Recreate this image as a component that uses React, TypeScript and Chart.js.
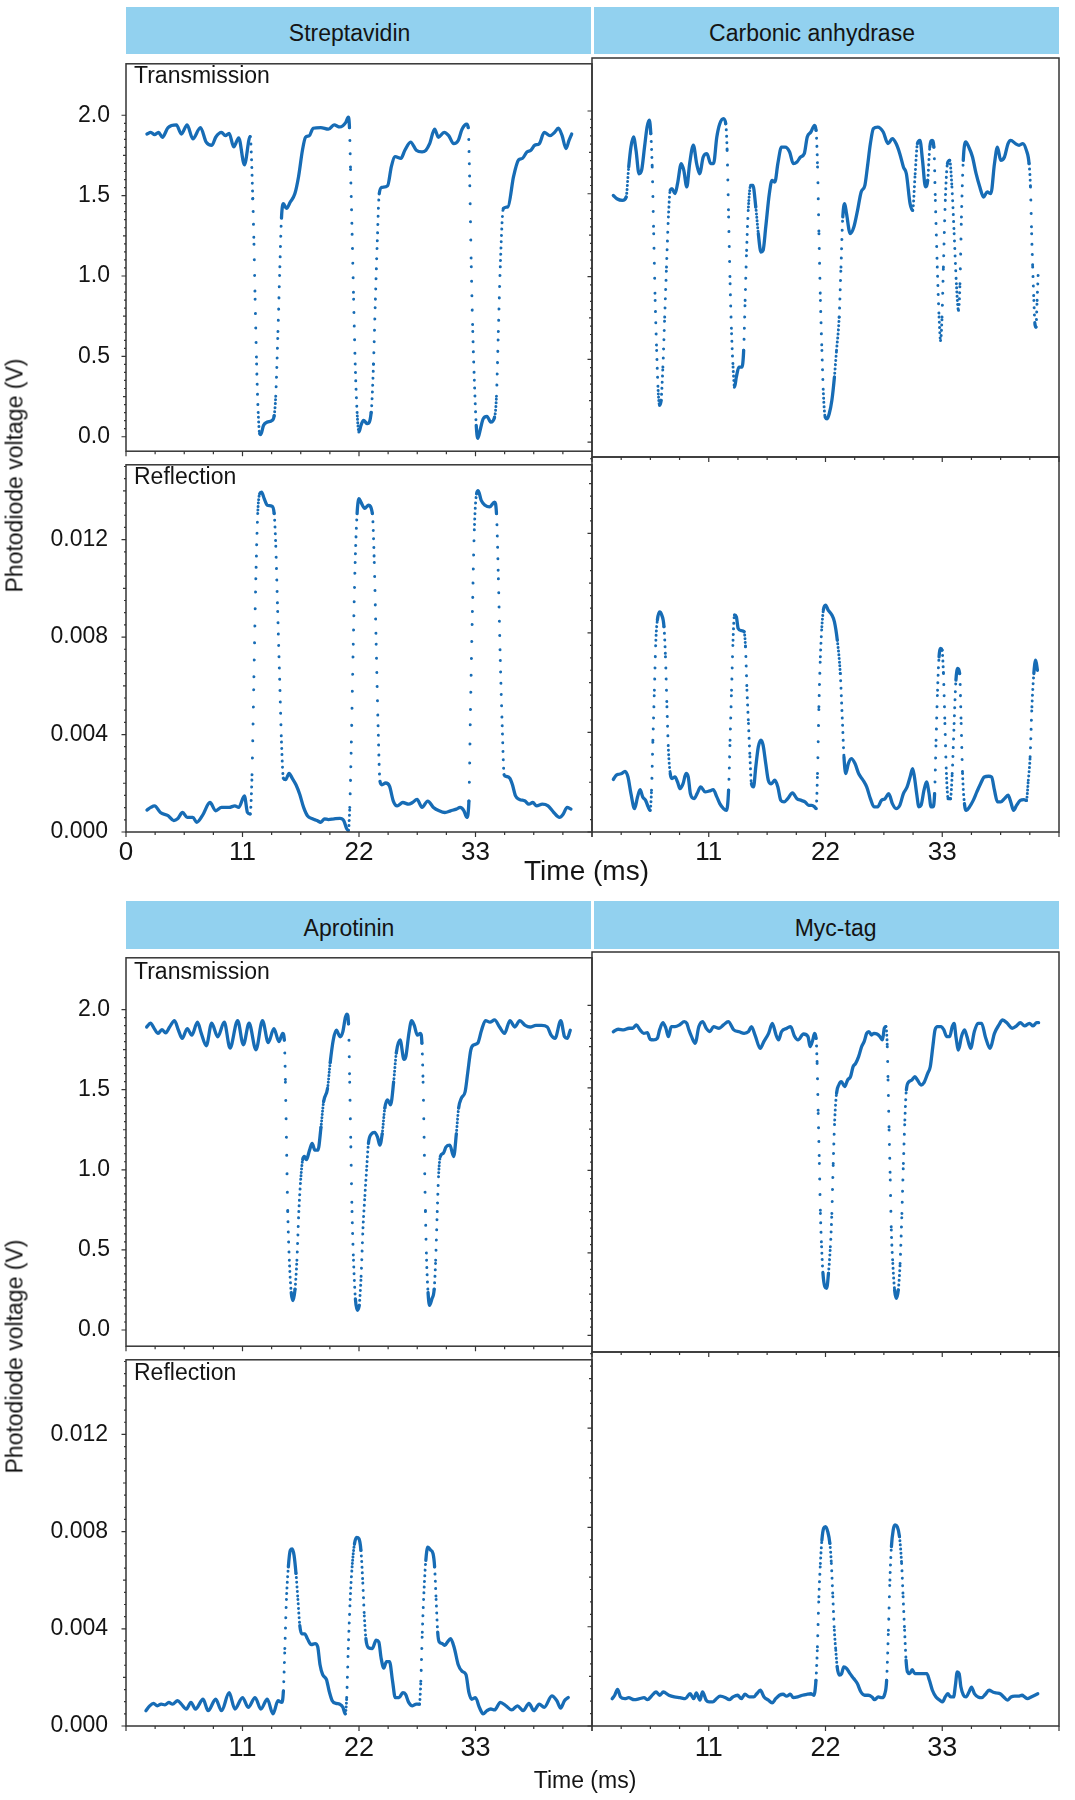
import React, { useEffect, useRef } from 'react';
import { Chart, registerables } from 'chart.js';

Chart.register(...registerables);

type Pt = [number, number];

// ---------------- axis values ----------------
const timeTickLabelsTop = [0, 11, 22, 33];
const timeTickLabelsBottom = [11, 22, 33];
const timeTickLabelsNone = [0, 11, 22, 33];
const transmissionTicks = [0, 0.5, 1.0, 1.5, 2.0];
const reflectionTicks = [0, 0.004, 0.008, 0.012];

// ---------------- data: [time (ms), photodiode voltage (V)] ----------------
const streptavidinTransmission: Pt[] = [
  [1.98,1.883],[2.34,1.893],[2.70,1.879],[3.07,1.893],[3.43,1.863],[3.97,1.923],[4.76,1.940],[5.23,1.883],[5.77,1.940],[6.31,1.853],
  [7.03,1.923],[7.57,1.833],[8.11,1.813],[8.47,1.863],[9.02,1.893],[9.38,1.873],[9.74,1.887],[10.17,1.803],[10.64,1.859],[11.18,1.692],
  [11.72,1.867],[11.97,1.480],[12.08,1.198],[12.19,0.856],[12.33,0.453],[12.48,0.151],[12.62,0.020],[12.73,0.014],[12.98,0.070],[13.34,0.091],
  [13.78,0.101],[13.99,0.131],[14.14,0.252],[14.35,0.655],[14.53,1.057],[14.68,1.360],[14.86,1.450],[15.15,1.420],[15.51,1.460],[15.94,1.511],
  [16.30,1.621],[16.66,1.782],[16.95,1.863],[17.31,1.873],[17.67,1.919],[18.39,1.923],[19.11,1.913],[19.65,1.940],[20.19,1.927],[20.74,1.954],
  [20.99,1.988],[21.10,1.923],[21.20,1.662],[21.35,1.259],[21.49,0.856],[21.64,0.453],[21.82,0.151],[22.00,0.030],[22.18,0.070],[22.43,0.101],
  [22.79,0.081],[23.15,0.151],[23.37,0.453],[23.55,0.856],[23.73,1.219],[23.91,1.511],[24.16,1.551],[24.70,1.561],[25.06,1.682],[25.42,1.742],
  [25.96,1.732],[26.33,1.782],[26.87,1.833],[27.41,1.782],[27.95,1.772],[28.31,1.782],[28.67,1.823],[29.14,1.913],[29.50,1.863],[30.04,1.893],
  [30.47,1.873],[30.94,1.823],[31.37,1.843],[31.73,1.913],[32.17,1.944],[32.31,1.923],[32.46,1.561],[32.60,1.057],[32.74,0.655],[32.89,0.352],
  [33.07,0.070],[33.21,-0.010],[33.47,0.050],[33.72,0.111],[34.08,0.127],[34.44,0.091],[34.80,0.121],[34.98,0.252],[35.16,0.655],[35.34,1.057],
  [35.63,1.420],[36.06,1.430],[36.60,1.621],[37.07,1.722],[37.43,1.732],[37.86,1.772],[38.23,1.782],[38.59,1.813],[39.02,1.823],[39.49,1.893],
  [40.03,1.873],[40.46,1.893],[40.82,1.919],[41.18,1.873],[41.54,1.793],[41.83,1.843],[42.08,1.883],
];

const streptavidinReflection: Pt[] = [
  [1.98,0.00090],[2.34,0.00101],[2.70,0.00107],[3.25,0.00080],[3.97,0.00067],[4.51,0.00047],[4.87,0.00054],[5.34,0.00080],[5.77,0.00060],[6.31,0.00060],
  [6.67,0.00040],[7.21,0.00067],[7.93,0.00121],[8.47,0.00087],[9.02,0.00101],[9.74,0.00101],[10.28,0.00107],[10.64,0.00101],[11.18,0.00148],[11.47,0.00080],
  [11.72,0.00074],[11.90,0.00235],[12.08,0.00637],[12.26,0.01039],[12.44,0.01307],[12.62,0.01388],[12.80,0.01395],[13.05,0.01368],[13.34,0.01341],[13.78,0.01337],
  [13.99,0.01307],[14.14,0.01173],[14.32,0.00905],[14.50,0.00637],[14.68,0.00369],[14.86,0.00221],[15.07,0.00215],[15.40,0.00241],[15.69,0.00221],[16.05,0.00194],
  [16.41,0.00154],[16.77,0.00101],[17.13,0.00067],[17.60,0.00054],[18.03,0.00047],[18.39,0.00040],[18.75,0.00054],[19.11,0.00051],[19.65,0.00054],[20.19,0.00056],
  [20.56,0.00047],[20.84,0.00013],[20.99,0.00007],[21.13,0.00101],[21.28,0.00369],[21.46,0.00771],[21.64,0.01106],[21.82,0.01307],[22.00,0.01368],[22.18,0.01354],
  [22.54,0.01328],[22.90,0.01341],[23.26,0.01307],[23.44,0.01106],[23.62,0.00771],[23.80,0.00436],[23.98,0.00208],[24.16,0.00194],[24.52,0.00201],[24.88,0.00188],
  [25.24,0.00127],[25.60,0.00107],[26.14,0.00121],[26.69,0.00114],[27.05,0.00121],[27.48,0.00134],[27.95,0.00101],[28.49,0.00127],[29.03,0.00101],[29.57,0.00087],
  [30.11,0.00080],[30.65,0.00087],[31.19,0.00094],[31.55,0.00101],[31.91,0.00087],[32.17,0.00060],[32.38,0.00127],[32.53,0.00503],[32.71,0.00905],[32.89,0.01240],
  [33.10,0.01388],[33.25,0.01401],[33.54,0.01361],[33.90,0.01341],[34.33,0.01334],[34.80,0.01354],[34.98,0.01307],[35.16,0.01039],[35.34,0.00704],[35.52,0.00436],
  [35.70,0.00235],[35.88,0.00228],[36.24,0.00221],[36.49,0.00194],[36.78,0.00148],[37.14,0.00134],[37.68,0.00127],[38.04,0.00114],[38.41,0.00121],[38.77,0.00107],
  [39.31,0.00114],[39.85,0.00107],[40.39,0.00080],[40.93,0.00060],[41.29,0.00074],[41.65,0.00101],[42.01,0.00094],
];

const carbonicTransmission: Pt[] = [
  [2.01,1.490],[2.35,1.470],[2.87,1.460],[3.22,1.480],[3.46,1.662],[3.67,1.782],[3.91,1.843],[4.15,1.762],[4.43,1.621],[4.67,1.641],
  [4.95,1.782],[5.19,1.903],[5.40,1.944],[5.54,1.863],[5.67,1.662],[5.81,1.259],[5.95,0.856],[6.09,0.554],[6.23,0.312],[6.37,0.222],
  [6.51,0.252],[6.68,0.453],[6.85,0.755],[7.02,1.057],[7.20,1.360],[7.37,1.521],[7.54,1.531],[7.82,1.501],[8.06,1.561],[8.41,1.682],
  [8.65,1.641],[8.93,1.541],[9.20,1.682],[9.55,1.793],[9.86,1.682],[10.14,1.621],[10.48,1.722],[10.83,1.742],[11.18,1.682],[11.45,1.682],
  [11.76,1.843],[12.04,1.923],[12.39,1.954],[12.60,1.923],[12.73,1.762],[12.87,1.360],[13.01,0.957],[13.15,0.655],[13.29,0.453],[13.43,0.332],
  [13.60,0.393],[13.84,0.453],[14.12,0.453],[14.29,0.554],[14.43,0.856],[14.57,1.158],[14.74,1.420],[14.95,1.551],[15.16,1.551],[15.43,1.420],
  [15.67,1.259],[15.92,1.148],[16.12,1.158],[16.37,1.299],[16.71,1.501],[16.96,1.581],[17.23,1.571],[17.51,1.682],[17.85,1.782],[18.20,1.782],
  [18.62,1.752],[18.96,1.682],[19.31,1.692],[19.65,1.722],[20.00,1.742],[20.28,1.843],[20.62,1.873],[20.97,1.913],[21.11,1.883],[21.25,1.662],
  [21.38,1.259],[21.52,0.856],[21.66,0.554],[21.80,0.292],[21.97,0.151],[22.15,0.141],[22.35,0.171],[22.60,0.252],[22.84,0.393],[23.04,0.554],
  [23.29,0.755],[23.46,1.057],[23.63,1.360],[23.81,1.440],[23.98,1.380],[24.33,1.259],[24.67,1.299],[25.02,1.400],[25.36,1.511],[25.71,1.551],
  [25.95,1.662],[26.23,1.803],[26.51,1.893],[26.92,1.903],[27.44,1.873],[27.89,1.803],[28.30,1.833],[28.65,1.803],[29.00,1.742],[29.34,1.662],
  [29.62,1.621],[29.97,1.440],[30.21,1.400],[30.45,1.621],[30.66,1.803],[30.90,1.823],[31.14,1.702],[31.42,1.541],[31.63,1.581],[31.83,1.782],
  [32.04,1.823],[32.21,1.782],[32.35,1.460],[32.53,1.057],[32.70,0.755],[32.84,0.614],[32.98,0.755],[33.11,1.057],[33.29,1.460],[33.49,1.682],
  [33.70,1.702],[33.91,1.541],[34.12,1.259],[34.33,0.957],[34.53,0.796],[34.67,0.957],[34.81,1.360],[34.98,1.702],[35.22,1.813],[35.50,1.782],
  [35.85,1.722],[36.19,1.621],[36.54,1.541],[36.89,1.480],[37.23,1.511],[37.58,1.501],[37.92,1.682],[38.20,1.782],[38.51,1.702],[38.86,1.722],
  [39.20,1.803],[39.45,1.823],[39.90,1.803],[40.24,1.793],[40.59,1.803],[40.93,1.762],[41.18,1.682],[41.31,1.541],[41.42,1.259],[41.52,1.057],
  [41.63,0.856],[41.73,0.715],[41.83,0.695],[41.94,0.856],[42.04,1.017],
];

const carbonicReflection: Pt[] = [
  [2.01,0.00211],[2.28,0.00228],[2.53,0.00232],[2.80,0.00235],[3.11,0.00244],[3.39,0.00221],[3.67,0.00154],[4.01,0.00094],[4.29,0.00141],[4.53,0.00170],
  [4.78,0.00141],[5.05,0.00127],[5.29,0.00101],[5.47,0.00087],[5.61,0.00168],[5.74,0.00369],[5.88,0.00570],[6.02,0.00771],[6.16,0.00852],[6.37,0.00885],
  [6.57,0.00872],[6.78,0.00825],[6.92,0.00704],[7.06,0.00503],[7.20,0.00329],[7.37,0.00235],[7.54,0.00215],[7.82,0.00221],[8.06,0.00201],[8.30,0.00174],
  [8.58,0.00194],[8.86,0.00235],[9.07,0.00221],[9.27,0.00154],[9.62,0.00134],[9.90,0.00154],[10.24,0.00181],[10.66,0.00161],[11.07,0.00165],[11.42,0.00170],
  [11.76,0.00141],[12.04,0.00114],[12.39,0.00094],[12.66,0.00087],[12.87,0.00168],[13.01,0.00369],[13.15,0.00570],[13.29,0.00771],[13.43,0.00872],[13.60,0.00865],
  [13.77,0.00818],[14.05,0.00809],[14.33,0.00805],[14.46,0.00744],[14.60,0.00570],[14.74,0.00436],[14.88,0.00302],[15.02,0.00194],[15.22,0.00181],[15.43,0.00261],
  [15.67,0.00342],[15.92,0.00369],[16.12,0.00349],[16.37,0.00275],[16.61,0.00208],[16.89,0.00194],[17.23,0.00208],[17.51,0.00181],[17.79,0.00127],[18.10,0.00121],
  [18.44,0.00134],[18.89,0.00157],[19.31,0.00134],[19.72,0.00127],[20.07,0.00121],[20.42,0.00107],[20.69,0.00107],[20.97,0.00101],[21.11,0.00094],[21.25,0.00235],
  [21.38,0.00503],[21.52,0.00704],[21.66,0.00825],[21.80,0.00892],[22.01,0.00912],[22.25,0.00892],[22.60,0.00872],[22.84,0.00845],[23.11,0.00771],[23.39,0.00637],
  [23.60,0.00436],[23.74,0.00302],[23.91,0.00235],[24.15,0.00275],[24.43,0.00295],[24.78,0.00275],[25.12,0.00235],[25.54,0.00208],[25.88,0.00181],[26.23,0.00134],
  [26.57,0.00101],[26.92,0.00101],[27.27,0.00127],[27.61,0.00134],[27.96,0.00154],[28.30,0.00114],[28.65,0.00094],[29.00,0.00107],[29.34,0.00154],[29.69,0.00181],
  [29.97,0.00221],[30.21,0.00255],[30.38,0.00221],[30.59,0.00154],[30.80,0.00101],[31.00,0.00107],[31.28,0.00168],[31.52,0.00201],[31.76,0.00154],[31.94,0.00101],
  [32.11,0.00101],[32.28,0.00154],[32.42,0.00369],[32.56,0.00570],[32.70,0.00704],[32.84,0.00738],[32.98,0.00731],[33.11,0.00637],[33.25,0.00436],[33.39,0.00235],
  [33.56,0.00134],[33.77,0.00134],[33.94,0.00235],[34.12,0.00436],[34.29,0.00610],[34.46,0.00657],[34.64,0.00637],[34.78,0.00436],[34.91,0.00235],[35.09,0.00114],
  [35.29,0.00087],[35.57,0.00101],[35.92,0.00127],[36.26,0.00161],[36.61,0.00194],[36.96,0.00221],[37.37,0.00224],[37.65,0.00221],[37.92,0.00168],[38.20,0.00121],
  [38.51,0.00121],[38.86,0.00134],[39.20,0.00148],[39.45,0.00121],[39.72,0.00087],[40.00,0.00107],[40.35,0.00127],[40.69,0.00130],[40.93,0.00127],[41.11,0.00208],
  [41.28,0.00302],[41.45,0.00503],[41.63,0.00637],[41.80,0.00691],[41.97,0.00650],
];

const aprotininTransmission: Pt[] = [
  [1.95,1.891],[2.31,1.915],[2.67,1.881],[3.03,1.851],[3.39,1.875],[3.75,1.855],[4.12,1.891],[4.58,1.931],[4.95,1.871],[5.31,1.820],
  [5.78,1.881],[6.21,1.840],[6.75,1.921],[7.11,1.851],[7.58,1.774],[8.09,1.915],[8.66,1.830],[9.28,1.921],[9.82,1.760],[10.54,1.931],
  [11.08,1.780],[11.62,1.915],[12.27,1.749],[12.89,1.931],[13.43,1.794],[13.97,1.881],[14.44,1.800],[14.80,1.851],[14.95,1.810],[15.05,1.547],
  [15.16,1.143],[15.27,0.739],[15.42,0.436],[15.60,0.234],[15.78,0.184],[15.96,0.255],[16.14,0.436],[16.32,0.739],[16.50,0.941],[16.68,1.063],
  [16.86,1.083],[17.04,1.063],[17.33,1.123],[17.58,1.164],[17.83,1.123],[18.12,1.123],[18.41,1.265],[18.66,1.426],[19.03,1.507],[19.28,1.669],
  [19.57,1.810],[19.86,1.871],[20.22,1.830],[20.47,1.861],[20.72,1.952],[20.87,1.972],[21.01,1.911],[21.12,1.547],[21.23,1.143],[21.34,0.739],
  [21.48,0.436],[21.66,0.194],[21.84,0.123],[22.02,0.154],[22.20,0.335],[22.38,0.638],[22.56,0.840],[22.74,1.022],[22.89,1.164],[23.18,1.224],
  [23.47,1.234],[23.75,1.204],[23.97,1.154],[24.19,1.224],[24.44,1.386],[24.69,1.436],[24.98,1.406],[25.27,1.547],[25.52,1.729],[25.88,1.810],
  [26.25,1.689],[26.43,1.709],[26.71,1.851],[26.97,1.931],[27.22,1.901],[27.51,1.840],[27.80,1.851],[27.94,1.790],[28.05,1.547],[28.16,1.143],
  [28.27,0.739],[28.38,0.436],[28.52,0.234],[28.66,0.154],[28.88,0.194],[29.10,0.255],[29.24,0.436],[29.39,0.739],[29.53,0.982],[29.68,1.083],
  [29.96,1.103],[30.22,1.143],[30.58,1.154],[30.94,1.083],[31.19,1.224],[31.41,1.386],[31.66,1.446],[32.02,1.487],[32.27,1.608],[32.56,1.749],
  [32.85,1.780],[33.21,1.790],[33.57,1.871],[33.94,1.931],[34.37,1.921],[34.80,1.935],[35.27,1.891],[35.74,1.851],[36.25,1.931],[36.71,1.891],
  [37.18,1.931],[37.69,1.901],[38.16,1.891],[38.70,1.901],[39.24,1.901],[39.78,1.891],[40.14,1.840],[40.51,1.820],[41.05,1.931],[41.41,1.830],
  [41.66,1.820],[41.95,1.871],
];

const aprotininReflection: Pt[] = [
  [1.88,0.00063],[2.24,0.00083],[2.60,0.00093],[2.96,0.00083],[3.32,0.00090],[3.68,0.00087],[4.04,0.00097],[4.40,0.00090],[4.87,0.00104],[5.23,0.00090],
  [5.70,0.00070],[6.13,0.00097],[6.56,0.00070],[7.28,0.00110],[7.75,0.00063],[8.47,0.00110],[9.02,0.00063],[9.74,0.00137],[10.28,0.00070],[11.00,0.00117],
  [11.54,0.00077],[12.19,0.00117],[12.73,0.00070],[13.34,0.00110],[13.88,0.00050],[14.35,0.00104],[14.71,0.00097],[14.86,0.00144],[15.00,0.00319],[15.15,0.00521],
  [15.33,0.00655],[15.51,0.00723],[15.69,0.00729],[15.87,0.00702],[16.05,0.00628],[16.23,0.00521],[16.41,0.00413],[16.59,0.00379],[16.88,0.00379],[17.13,0.00359],
  [17.49,0.00335],[17.85,0.00339],[18.10,0.00326],[18.32,0.00252],[18.57,0.00211],[18.93,0.00191],[19.18,0.00144],[19.47,0.00104],[19.83,0.00093],[20.19,0.00090],
  [20.48,0.00077],[20.70,0.00050],[20.84,0.00117],[20.99,0.00319],[21.17,0.00521],[21.35,0.00655],[21.57,0.00749],[21.78,0.00776],[22.00,0.00770],[22.18,0.00723],
  [22.36,0.00588],[22.50,0.00453],[22.65,0.00359],[22.90,0.00322],[23.26,0.00319],[23.62,0.00353],[23.87,0.00346],[24.09,0.00279],[24.34,0.00238],[24.59,0.00265],
  [24.88,0.00265],[25.17,0.00184],[25.42,0.00117],[25.78,0.00117],[26.14,0.00137],[26.40,0.00130],[26.69,0.00097],[27.05,0.00083],[27.41,0.00090],[27.70,0.00090],
  [27.84,0.00184],[27.98,0.00386],[28.13,0.00548],[28.31,0.00682],[28.49,0.00736],[28.74,0.00725],[28.99,0.00709],[29.14,0.00655],[29.28,0.00521],[29.43,0.00386],
  [29.57,0.00346],[29.86,0.00339],[30.11,0.00332],[30.36,0.00346],[30.65,0.00359],[31.01,0.00319],[31.37,0.00252],[31.73,0.00225],[32.10,0.00211],[32.38,0.00137],
  [32.64,0.00110],[33.00,0.00117],[33.36,0.00077],[33.72,0.00050],[34.08,0.00063],[34.44,0.00070],[34.80,0.00066],[35.34,0.00097],[35.88,0.00083],[36.42,0.00066],
  [36.96,0.00083],[37.50,0.00063],[38.05,0.00093],[38.51,0.00063],[39.02,0.00090],[39.49,0.00077],[40.21,0.00124],[40.68,0.00104],[41.04,0.00074],[41.40,0.00104],
  [41.76,0.00117],
];

const mycTransmission: Pt[] = [
  [2.01,1.840],[2.46,1.855],[2.98,1.851],[3.49,1.861],[3.84,1.861],[4.19,1.881],[4.53,1.851],[4.88,1.830],[5.22,1.834],[5.47,1.794],
  [5.81,1.790],[6.16,1.800],[6.37,1.851],[6.68,1.895],[6.96,1.861],[7.20,1.810],[7.47,1.871],[7.82,1.871],[8.24,1.881],[8.69,1.901],
  [8.93,1.891],[9.13,1.851],[9.38,1.810],[9.72,1.770],[10.07,1.871],[10.42,1.901],[10.76,1.861],[11.11,1.840],[11.45,1.871],[11.97,1.861],
  [12.39,1.881],[12.84,1.901],[13.36,1.851],[13.88,1.840],[14.33,1.830],[14.74,1.840],[15.02,1.871],[15.36,1.820],[15.85,1.739],[16.19,1.780],
  [16.64,1.830],[16.99,1.891],[17.34,1.820],[17.58,1.790],[17.85,1.840],[18.37,1.861],[18.72,1.871],[19.07,1.814],[19.41,1.790],[19.93,1.826],
  [20.35,1.810],[20.55,1.749],[20.80,1.790],[20.97,1.830],[21.11,1.800],[21.21,1.648],[21.31,1.345],[21.42,1.042],[21.52,0.739],[21.63,0.537],
  [21.76,0.376],[21.94,0.295],[22.11,0.285],[22.28,0.376],[22.46,0.537],[22.60,0.739],[22.73,1.042],[22.87,1.305],[23.04,1.467],[23.25,1.517],
  [23.49,1.537],[23.81,1.507],[24.08,1.547],[24.36,1.568],[24.60,1.628],[24.84,1.648],[25.12,1.689],[25.40,1.749],[25.64,1.780],[25.88,1.830],
  [26.09,1.840],[26.33,1.820],[26.57,1.830],[26.85,1.826],[27.13,1.810],[27.37,1.790],[27.54,1.861],[27.68,1.871],[27.82,1.749],[27.89,1.547],
  [27.99,1.244],[28.10,0.941],[28.20,0.638],[28.34,0.436],[28.51,0.275],[28.69,0.224],[28.86,0.275],[29.03,0.436],[29.20,0.739],[29.34,1.042],
  [29.48,1.305],[29.62,1.487],[29.86,1.537],[30.14,1.547],[30.42,1.568],[30.66,1.547],[31.00,1.517],[31.28,1.531],[31.63,1.588],[31.87,1.628],
  [32.11,1.749],[32.32,1.851],[32.56,1.871],[32.91,1.871],[33.15,1.851],[33.43,1.810],[33.70,1.810],[33.94,1.871],[34.12,1.891],[34.29,1.810],
  [34.53,1.729],[34.81,1.810],[35.09,1.851],[35.33,1.810],[35.67,1.739],[36.02,1.840],[36.37,1.891],[36.71,1.891],[37.06,1.810],[37.51,1.739],
  [37.92,1.830],[38.34,1.881],[38.69,1.911],[39.13,1.891],[39.58,1.861],[40.00,1.875],[40.35,1.895],[40.76,1.875],[41.21,1.891],[41.56,1.875],
  [41.90,1.895],[42.08,1.895],
];

const mycReflection: Pt[] = [
  [1.90,0.00110],[2.14,0.00124],[2.41,0.00147],[2.69,0.00117],[3.10,0.00110],[3.45,0.00114],[3.97,0.00106],[4.48,0.00110],[4.90,0.00114],[5.24,0.00106],
  [5.59,0.00120],[6.03,0.00137],[6.38,0.00124],[6.72,0.00137],[7.24,0.00124],[7.76,0.00117],[8.28,0.00114],[8.79,0.00110],[9.24,0.00130],[9.59,0.00110],
  [9.83,0.00133],[10.17,0.00104],[10.41,0.00137],[10.76,0.00104],[11.03,0.00097],[11.38,0.00097],[11.72,0.00110],[12.07,0.00120],[12.59,0.00114],[12.93,0.00106],
  [13.28,0.00117],[13.72,0.00124],[14.07,0.00110],[14.41,0.00128],[14.83,0.00117],[15.24,0.00117],[15.52,0.00130],[15.86,0.00144],[16.21,0.00117],[16.62,0.00104],
  [16.97,0.00093],[17.31,0.00110],[17.66,0.00124],[18.00,0.00128],[18.34,0.00120],[18.69,0.00128],[18.97,0.00114],[19.38,0.00117],[19.83,0.00124],[20.28,0.00128],
  [20.62,0.00130],[20.90,0.00124],[21.10,0.00184],[21.24,0.00319],[21.38,0.00521],[21.52,0.00655],[21.66,0.00749],[21.83,0.00797],[22.00,0.00803],[22.21,0.00783],
  [22.41,0.00736],[22.55,0.00655],[22.69,0.00521],[22.83,0.00386],[22.97,0.00305],[23.10,0.00238],[23.31,0.00205],[23.52,0.00211],[23.72,0.00238],[24.00,0.00231],
  [24.31,0.00211],[24.66,0.00191],[25.00,0.00171],[25.34,0.00137],[25.69,0.00124],[26.03,0.00124],[26.38,0.00117],[26.62,0.00106],[26.97,0.00117],[27.31,0.00114],
  [27.59,0.00130],[27.76,0.00184],[27.93,0.00386],[28.07,0.00588],[28.21,0.00723],[28.38,0.00790],[28.55,0.00810],[28.76,0.00803],[28.97,0.00763],[29.17,0.00655],
  [29.31,0.00521],[29.45,0.00386],[29.59,0.00265],[29.72,0.00218],[29.93,0.00211],[30.17,0.00227],[30.41,0.00211],[30.76,0.00211],[31.21,0.00211],[31.55,0.00211],
  [31.79,0.00184],[32.07,0.00144],[32.41,0.00117],[32.76,0.00104],[33.03,0.00097],[33.28,0.00117],[33.52,0.00130],[33.79,0.00117],[34.07,0.00117],[34.24,0.00164],
  [34.41,0.00218],[34.59,0.00211],[34.76,0.00157],[35.00,0.00124],[35.24,0.00117],[35.52,0.00137],[35.76,0.00157],[36.03,0.00130],[36.38,0.00117],[36.72,0.00114],
  [37.07,0.00128],[37.41,0.00144],[37.76,0.00137],[38.10,0.00133],[38.45,0.00130],[38.79,0.00117],[39.14,0.00104],[39.48,0.00117],[39.83,0.00120],[40.17,0.00120],
  [40.52,0.00124],[40.76,0.00117],[41.03,0.00110],[41.38,0.00117],[41.72,0.00124],[42.00,0.00130],
];

// ---------------- styling ----------------
const FONT = '"Liberation Sans", Arial, Helvetica, sans-serif';
const LINE_COLOR = '#176cb5';
const AXIS_COLOR = '#353535';
const TEXT_COLOR = '#141414';
const HEADER_BG = '#92d1ef';
const SAMPLE_DX = 0.33; // px between acquisition samples along time

function buildTickMarks(count: number, step: number, majorEvery: number, midEvery: number, lens: number[]) {
  const out: [number, number][] = [];
  for (let i = 0; i <= count; i++) {
    const len = i % majorEvery === 0 ? lens[0] : i % midEvery === 0 ? lens[1] : lens[2];
    out.push([i * step, len]);
  }
  return out;
}
const xTickMarks = buildTickMarks(16, 2.75, 4, 4, [5, 3, 3]);
const tTickMarks = buildTickMarks(40, 0.05, 10, 5, [4.5, 3, 2]);
const rTickMarks = buildTickMarks(30, 0.0005, 8, 4, [4.5, 3, 2]);

const decorPlugin = {
  id: 'decor',
  afterDraw(chart: any, _args: any, o: any) {
    const { ctx, chartArea: a } = chart;
    const xs = chart.scales.x;
    const ys = chart.scales.y;
    ctx.save();
    ctx.strokeStyle = AXIS_COLOR;
    ctx.lineWidth = 1.2;
    ctx.beginPath();
    for (const [v, len] of o.yMarks) {
      const y = ys.getPixelForValue(v);
      ctx.moveTo(a.left, y);
      ctx.lineTo(a.left - len, y);
    }
    for (const [v, len] of o.xMarks) {
      const x = xs.getPixelForValue(v);
      ctx.moveTo(x, a.bottom);
      ctx.lineTo(x, a.bottom + len);
    }
    ctx.stroke();
    ctx.lineWidth = 1.5;
    ctx.strokeRect(a.left, a.top, a.right - a.left, a.bottom - a.top);
    ctx.restore();
  },
};

type PanelSpec = {
  id: string;
  data: Pt[];
  kind: 'T' | 'R';
  col: 0 | 1;
  top: number;
  height: number;
  yMin: number;
  yMax: number;
  xLabels: number[];
  showX: boolean;
  xFont: number;
  xPad: number;
};

function segSpacing(c: any) {
  const dx = Math.abs(c.p1.x - c.p0.x);
  const dy = Math.abs(c.p1.y - c.p0.y);
  const slope = dy / Math.max(dx, 0.001);
  return SAMPLE_DX * Math.sqrt(1 + slope * slope);
}

function Panel({ spec }: { spec: PanelSpec }) {
  const ref = useRef<HTMLCanvasElement>(null);
  const plotLeft = spec.col === 0 ? 126 : 592;
  const plotW = spec.col === 0 ? 466 : 467;
  const padL = spec.col === 0 ? 126 : 10;
  const padR = 12;
  const padT = 24;
  const padB = spec.kind === 'R' ? 56 : 24;
  const cw = padL + plotW + padR;
  const ch = padT + spec.height + padB;

  useEffect(() => {
    const isT = spec.kind === 'T';
    const chart = new Chart(ref.current as HTMLCanvasElement, {
      type: 'line',
      data: {
        datasets: [
          {
            data: spec.data.map(([x, y]) => ({ x, y })),
            borderColor: LINE_COLOR,
            borderWidth: 3.3,
            pointRadius: 0,
            pointHoverRadius: 0,
            fill: false,
            cubicInterpolationMode: 'monotone',
            borderCapStyle: 'round',
            borderJoinStyle: 'round',
            segment: {
              borderDash: (c: any) => {
                const s = segSpacing(c);
                return s > 3.2 ? [0.01, s - 0.01] : undefined;
              },
              borderWidth: (c: any) => (segSpacing(c) > 3.2 ? 3.0 : undefined),
            },
          } as any,
        ],
      },
      options: {
        animation: false,
        responsive: false,
        maintainAspectRatio: false,
        devicePixelRatio: 1,
        events: [],
        layout: { padding: { left: 0, top: padT, right: padR, bottom: 0 } },
        plugins: {
          legend: { display: false },
          tooltip: { enabled: false },
          decor: { yMarks: isT ? tTickMarks : rTickMarks, xMarks: xTickMarks },
        } as any,
        scales: {
          x: {
            type: 'linear',
            min: 0,
            max: 44,
            grid: { display: false, drawTicks: false },
            border: { display: false },
            ticks: {
              display: spec.showX,
              autoSkip: false,
              maxRotation: 0,
              padding: spec.xPad,
              color: TEXT_COLOR,
              font: { family: FONT, size: spec.xFont },
              callback: (v: any) => String(v),
            },
            afterBuildTicks: (s: any) => {
              s.ticks = spec.xLabels.map((v) => ({ value: v }));
            },
            afterFit: (s: any) => {
              s.height = padB;
            },
          },
          y: {
            type: 'linear',
            min: spec.yMin,
            max: spec.yMax,
            grid: { display: false, drawTicks: false },
            border: { display: false },
            ticks: {
              display: spec.col === 0,
              autoSkip: false,
              padding: isT ? 16 : 18,
              color: TEXT_COLOR,
              font: { family: FONT, size: 23 },
              callback: (v: any) => (isT ? Number(v).toFixed(1) : Number(v).toFixed(3)),
            },
            afterBuildTicks: (s: any) => {
              s.ticks = (isT ? transmissionTicks : reflectionTicks).map((v) => ({ value: v }));
            },
            afterFit: (s: any) => {
              s.width = padL;
            },
          },
        },
      } as any,
      plugins: [decorPlugin as any],
    });
    return () => chart.destroy();
  }, []);

  return (
    <canvas
      ref={ref}
      width={cw}
      height={ch}
      style={{ position: 'absolute', left: plotLeft - padL, top: spec.top - padT, width: cw, height: ch }}
    />
  );
}

function Text({ x, baseline, size, text, center }: { x: number; baseline: number; size: number; text: string; center?: boolean }) {
  const top = baseline - 0.8465 * size;
  const style: any = {
    position: 'absolute',
    top,
    fontSize: size,
    lineHeight: `${size}px`,
    whiteSpace: 'nowrap',
    color: TEXT_COLOR,
  };
  if (center) {
    style.left = x - 300;
    style.width = 600;
    style.textAlign = 'center';
  } else {
    style.left = x;
  }
  return <div style={style}>{text}</div>;
}

function Header({ left, top, width, height, textX, baselineOffset, text }: any) {
  return (
    <>
      <div style={{ position: 'absolute', left, top, width, height, background: HEADER_BG }} />
      <Text x={textX} baseline={top + baselineOffset} size={23} text={text} center />
    </>
  );
}

function YTitle({ cx, cy }: { cx: number; cy: number }) {
  const size = 23;
  return (
    <div
      style={{
        position: 'absolute',
        left: cx - 200,
        top: cy - size / 2,
        width: 400,
        height: size,
        lineHeight: `${size}px`,
        fontSize: size,
        textAlign: 'center',
        whiteSpace: 'nowrap',
        color: TEXT_COLOR,
        transform: 'rotate(-90deg)',
        transformOrigin: '50% 50%',
      }}
    >
      Photodiode voltage (V)
    </div>
  );
}

const panels: PanelSpec[] = [
  { id: 'st', data: streptavidinTransmission, kind: 'T', col: 0, top: 58, height: 399, yMin: -0.09, yMax: 2.32, xLabels: timeTickLabelsNone, showX: false, xFont: 26, xPad: 5 },
  { id: 'sr', data: streptavidinReflection, kind: 'R', col: 0, top: 457, height: 375, yMin: 0, yMax: 0.01507, xLabels: timeTickLabelsTop, showX: true, xFont: 26, xPad: 5 },
  { id: 'ct', data: carbonicTransmission, kind: 'T', col: 1, top: 58, height: 399, yMin: -0.09, yMax: 2.32, xLabels: timeTickLabelsNone, showX: false, xFont: 26, xPad: 5 },
  { id: 'cr', data: carbonicReflection, kind: 'R', col: 1, top: 457, height: 375, yMin: 0, yMax: 0.01507, xLabels: timeTickLabelsBottom, showX: true, xFont: 26, xPad: 5 },
  { id: 'at', data: aprotininTransmission, kind: 'T', col: 0, top: 952, height: 400, yMin: -0.101, yMax: 2.323, xLabels: timeTickLabelsNone, showX: false, xFont: 27, xPad: 6 },
  { id: 'ar', data: aprotininReflection, kind: 'R', col: 0, top: 1352, height: 374, yMin: 0, yMax: 0.01507, xLabels: timeTickLabelsBottom, showX: true, xFont: 27, xPad: 6 },
  { id: 'mt', data: mycTransmission, kind: 'T', col: 1, top: 952, height: 400, yMin: -0.101, yMax: 2.323, xLabels: timeTickLabelsNone, showX: false, xFont: 27, xPad: 6 },
  { id: 'mr', data: mycReflection, kind: 'R', col: 1, top: 1352, height: 374, yMin: 0, yMax: 0.01507, xLabels: timeTickLabelsBottom, showX: true, xFont: 27, xPad: 6 },
];

export default function App() {
  return (
    <div
      style={{
        position: 'absolute',
        left: 0,
        top: 0,
        width: 1075,
        height: 1800,
        background: '#ffffff',
        overflow: 'hidden',
        fontFamily: FONT,
      }}
    >
      <Header left={126} top={7} width={465} height={47} textX={349.6} baselineOffset={34.5} text="Streptavidin" />
      <Header left={594} top={7} width={465} height={47} textX={812} baselineOffset={34.5} text="Carbonic anhydrase" />
      <Header left={126} top={901} width={465} height={48} textX={349} baselineOffset={35.5} text="Aprotinin" />
      <Header left={594} top={901} width={465} height={48} textX={835.6} baselineOffset={35.5} text="Myc-tag" />

      {panels.map((p) => (
        <Panel key={p.id} spec={p} />
      ))}

      <Text x={134} baseline={83} size={23} text="Transmission" />
      <Text x={134} baseline={484} size={23} text="Reflection" />
      <Text x={134} baseline={979} size={23} text="Transmission" />
      <Text x={134} baseline={1380} size={23} text="Reflection" />

      <YTitle cx={15} cy={475.5} />
      <YTitle cx={15} cy={1356.5} />

      <Text x={586.5} baseline={881} size={28} text="Time (ms)" center />
      <Text x={585} baseline={1788} size={23} text="Time (ms)" center />
    </div>
  );
}
